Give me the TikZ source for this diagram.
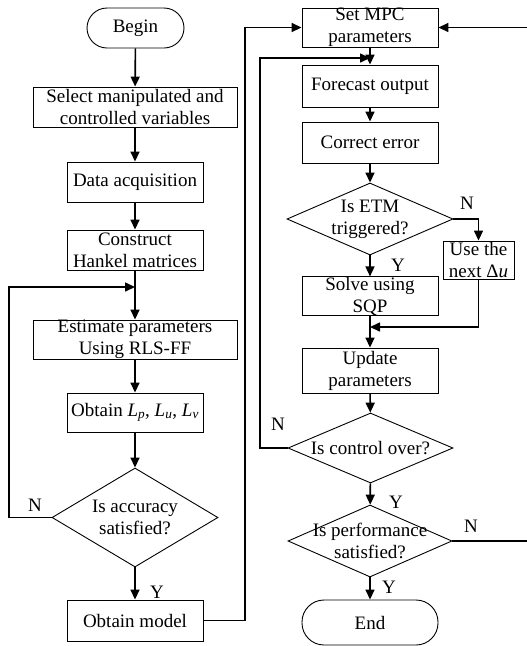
\documentclass[tikz,border=0pt]{standalone}
\usepackage{fontspec}
\setmainfont{Liberation Serif}
\usetikzlibrary{arrows.meta,shapes.geometric}
\begin{document}
\begin{tikzpicture}[x=1pt,y=-1pt,
  every node/.style={font=\fontsize{19}{22}\selectfont, inner sep=0pt},
  box/.style={draw, line width=0.9pt, minimum width=136pt, align=center},
  wbox/.style={box, minimum width=204pt},
  term/.style={box, rounded corners=20pt},
  dia/.style={draw, diamond, line width=0.9pt},
  arr/.style={line width=1.6pt, -{Triangle[length=10pt,width=9pt]}},
  ln/.style={line width=1.6pt}]
\useasboundingbox (0,0) rectangle (527,646);
% left column
\node[term, minimum width=97pt, minimum height=40pt] (begin) at (135.5,28) {Begin};
\node[wbox, minimum height=40pt] (select) at (135,107) {Select manipulated and\\controlled variables};
\node[box, minimum height=40pt] (data) at (135,182) {Data acquisition};
\node[box, minimum height=40pt] (hankel) at (135,250) {Construct\\Hankel matrices};
\node[wbox, minimum height=39pt] (est) at (135,339.5) {Estimate parameters\\Using RLS-FF};
\node[box, minimum height=39pt] (obl) at (135,412.5) {Obtain {\itshape L}\textsubscript{\itshape p}, {\itshape L}\textsubscript{\itshape u}, {\itshape L}\textsubscript{\itshape v}};
\node[dia, minimum width=166pt, minimum height=99pt] (acc) at (135,517.5) {};
\node[align=center] (acct) at (acc) {Is accuracy\\satisfied?};
\node[box, minimum height=41pt] (om) at (135,620.5) {Obtain model};
% right column
\node[box, minimum height=39pt] (mpc) at (370,27.5) {Set MPC\\parameters};
\node[box, minimum height=42pt] (fc) at (370,86) {Forecast output};
\node[box, minimum height=41pt] (ce) at (370,142.5) {Correct error};
\node[dia, minimum width=166pt, minimum height=72pt] (etm) at (370,219) {};
\node[align=center] (etmt) at (etm) {Is ETM\\triggered?};
\node[box, minimum width=71pt, minimum height=38pt] (un) at (478.5,260) {Use the\\next Δ{\itshape u}};
\node[box, minimum height=38pt] (sv) at (370,296) {Solve using\\SQP};
\node[box, minimum height=45pt] (up) at (370,370.5) {Update\\parameters};
\node[dia, minimum width=165pt, minimum height=70pt] (co) at (370.5,448) {};
\node (cot) at (co) {Is control over?};
\node[dia, minimum width=164pt, minimum height=72pt] (pf) at (370,541) {};
\node[align=center] (pft) at (pf) {Is performance\\satisfied?};
\node[term, rounded corners=22pt, minimum height=45pt] (end) at (370,622.5) {End};
% coordinates
\coordinate (c1) at (9,287);
\coordinate (j1) at (135,287);
\coordinate (c2) at (245,27.5);
\coordinate (c3) at (260,58);
\coordinate (j2) at (370,58);
\coordinate (j3) at (370,327);
\coordinate (c4) at (529,27.5);
% left connectors
\draw[arr] (begin) -- (select);
\draw[arr] (select) -- (data);
\draw[arr] (data) -- (hankel);
\draw[arr] (hankel) -- (est);
\draw[arr] (est) -- (obl);
\draw[arr] (obl) -- (acc);
\draw[arr] (acc) -- (om);
\draw[arr] (acc.west) -| (c1) -- (j1);
\draw[arr] (om.east) -| (c2) -- (mpc.west);
% right connectors
\draw[arr] (mpc) -- (fc);
\draw[arr] (fc) -- (ce);
\draw[arr] (ce) -- (etm);
\draw[arr] (etm) -- (sv);
\draw[arr] (etm.east) -| (un.north);
\draw[arr] (un.south) |- (j3);
\draw[arr] (sv) -- (up);
\draw[arr] (up) -- (co);
\draw[arr] (co.west) -| (c3) -- (j2);
\draw[arr] (co) -- (pf);
\draw[arr] (pf) -- (end);
\draw[arr] (pf.east) -| (c4) -- (mpc.east);
% labels
\node (n1) at (35,505) {N};
\node (y1) at (157,592) {Y};
\node (n2) at (467,203) {N};
\node (y2) at (398,265) {Y};
\node (n3) at (278,424) {N};
\node (y3) at (396,502) {Y};
\node (n4) at (471,526) {N};
\node (y4) at (389,587) {Y};
\end{tikzpicture}
\end{document}
